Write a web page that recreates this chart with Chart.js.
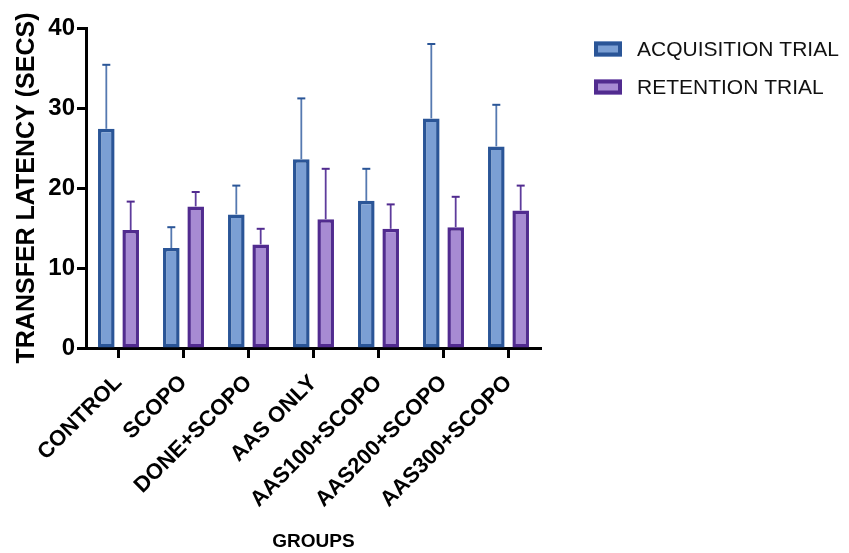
<!DOCTYPE html>
<html>
<head>
<meta charset="utf-8">
<script src="https://cdn.jsdelivr.net/npm/chart.js@4.4.1/dist/chart.umd.min.js"></script>
<style>
html,body{margin:0;padding:0;background:#fff;}
#wrap{width:849px;height:553px;position:relative;}
</style>
</head>
<body>
<div id="wrap"><canvas id="c" width="849" height="553"></canvas></div>
<script>
const categories = ['CONTROL','SCOPO','DONE+SCOPO','AAS ONLY','AAS100+SCOPO','AAS200+SCOPO','AAS300+SCOPO'];
const acqMean = [27.4, 12.5, 16.7, 23.6, 18.4, 28.7, 25.2];
const acqErr  = [8.0, 2.6, 3.6, 7.6, 4.0, 9.3, 5.2];
const retMean = [14.75, 17.7, 12.95, 16.1, 14.9, 15.1, 17.2];
const retErr  = [3.55, 1.8, 1.95, 6.3, 3.05, 3.8, 3.1];
const yTicks  = [0, 10, 20, 30, 40];
const seriesNames = ['ACQUISITION TRIAL', 'RETENTION TRIAL'];

const FONT = '"Liberation Sans", Arial, Helvetica, sans-serif';
const acqBorder = '#2a5597', acqFill = '#7b9fd4';
const retBorder = '#512b8f', retFill = '#a78bd3';

const errorBars = {
  id: 'errorBars',
  afterDatasetsDraw(chart) {
    const ctx = chart.ctx;
    const ys = chart.scales.y;
    chart.data.datasets.forEach((ds, i) => {
      const meta = chart.getDatasetMeta(i);
      meta.data.forEach((bar, j) => {
        const top = ys.getPixelForValue(ds.data[j] + ds.errors[j]);
        ctx.save();
        ctx.strokeStyle = ds.errColor;
        ctx.lineWidth = 1.8;
        ctx.beginPath();
        ctx.moveTo(bar.x, bar.y);
        ctx.lineTo(bar.x, top);
        ctx.stroke();
        ctx.strokeStyle = ds.borderColor;
        ctx.lineWidth = 2;
        ctx.beginPath();
        ctx.moveTo(bar.x - 4, top);
        ctx.lineTo(bar.x + 4, top);
        ctx.stroke();
        ctx.restore();
      });
    });
  }
};

const customLegend = {
  id: 'customLegend',
  afterDraw(chart) {
    const ctx = chart.ctx;
    ctx.save();
    chart.data.datasets.forEach((ds, i) => {
      const cy = 49 + i * 38;
      ctx.fillStyle = ds.backgroundColor;
      ctx.fillRect(594, cy - 7.5, 28, 15);
      ctx.strokeStyle = ds.borderColor;
      ctx.lineWidth = 4;
      ctx.strokeRect(596, cy - 5.5, 24, 11);
      ctx.fillStyle = '#111';
      ctx.font = '21px ' + FONT;
      ctx.textBaseline = 'middle';
      ctx.textAlign = 'left';
      ctx.fillText(ds.label, 637, cy + 1);
    });
    ctx.restore();
  }
};

new Chart(document.getElementById('c'), {
  type: 'bar',
  data: {
    labels: categories,
    datasets: [
      { label: seriesNames[0], data: acqMean, errors: acqErr, errColor: '#5579b0',
        backgroundColor: acqFill, borderColor: acqBorder, borderWidth: 3.5, borderSkipped: false,
        categoryPercentage: 0.75, barPercentage: 0.68 },
      { label: seriesNames[1], data: retMean, errors: retErr, errColor: '#5e3c9c',
        backgroundColor: retFill, borderColor: retBorder, borderWidth: 3.5, borderSkipped: false,
        categoryPercentage: 0.75, barPercentage: 0.68 }
    ]
  },
  options: {
    responsive: false,
    animation: false,
    devicePixelRatio: 1,
    layout: { padding: { top: 28, right: 308, left: 0, bottom: 0 } },
    plugins: { legend: { display: false }, tooltip: { enabled: false } },
    scales: {
      x: {
        offset: true,
        grid: { display: true, drawOnChartArea: false, drawTicks: true, tickLength: 10, tickWidth: 3, tickColor: '#000', offset: false },
        border: { display: true, color: '#000', width: 3 },
        ticks: { color: '#000', minRotation: 45, maxRotation: 45, autoSkip: false, padding: 12,
                 font: { family: FONT, size: 22, weight: 'bold' } },
        title: { display: true, text: 'GROUPS', color: '#000', padding: { top: 0, bottom: 0 },
                 font: { family: FONT, size: 19, weight: 'bold' } },
        afterFit(s) { s.height = 205; }
      },
      y: {
        min: 0, max: 40,
        afterBuildTicks(s) { s.ticks = yTicks.map(v => ({ value: v })); },
        grid: { display: true, drawOnChartArea: false, drawTicks: true, tickLength: 9, tickWidth: 3, tickColor: '#000' },
        border: { display: true, color: '#000', width: 3 },
        ticks: { color: '#000', padding: 2, font: { family: FONT, size: 24, weight: 'bold' } },
        title: { display: true, text: 'TRANSFER LATENCY (SECS)', color: '#000', padding: { top: 12, bottom: 0 },
                 font: { family: FONT, size: 25, weight: 'bold' } },
        afterFit(s) { s.width = 86; }
      }
    }
  },
  plugins: [errorBars, customLegend]
});
</script>
</body>
</html>
